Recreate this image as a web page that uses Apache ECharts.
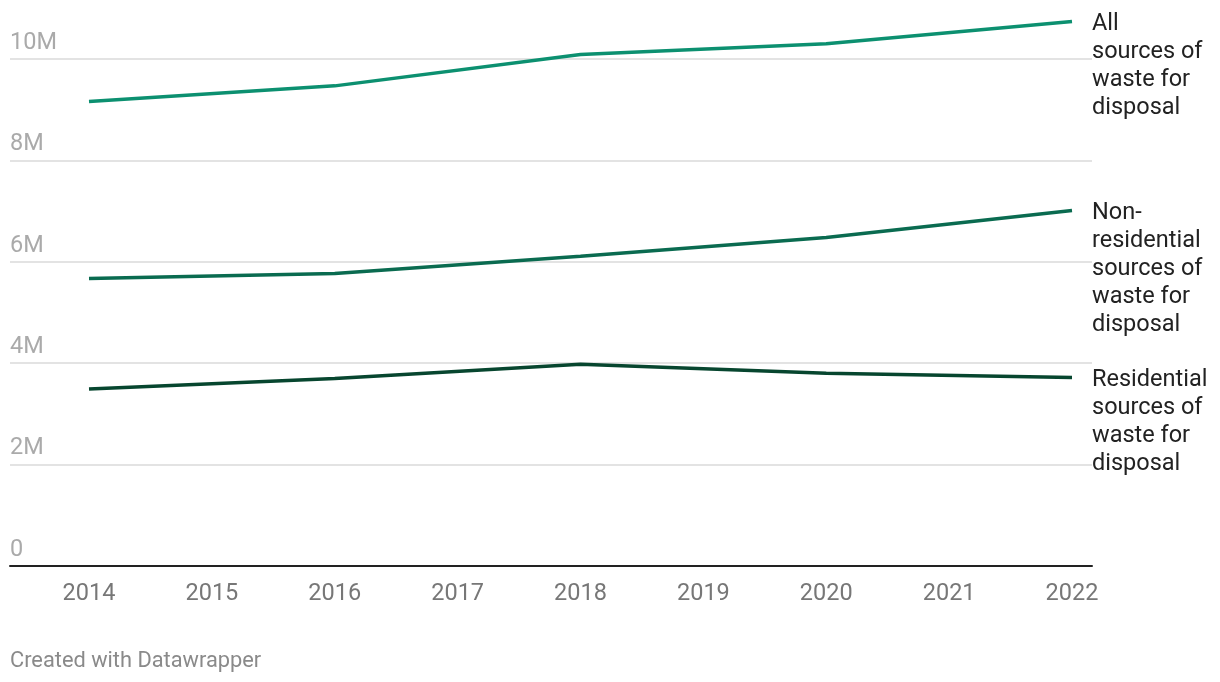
<!DOCTYPE html>
<html>
<head>
<meta charset="utf-8">
<script src="https://cdn.jsdelivr.net/npm/echarts@6/dist/echarts.min.js"></script>
<style>
html,body{margin:0;padding:0;background:#fff;}
#chart{width:1220px;height:682px;}
</style>
</head>
<body>
<div id="chart"></div>
<script>
const years = [2014, 2016, 2018, 2020, 2022];
const allSources = [9.16, 9.47, 10.09, 10.30, 10.74];
const nonResidential = [5.67, 5.77, 6.11, 6.48, 7.01];
const residential = [3.49, 3.70, 3.98, 3.80, 3.72];
const seriesNames = [
  "All\nsources of\nwaste for\ndisposal",
  "Non-\nresidential\nsources of\nwaste for\ndisposal",
  "Residential\nsources of\nwaste for\ndisposal"
];
const colors = ["#0c9070", "#0a6b50", "#07462f"];
const footer = "Created with Datawrapper";

const FONT = "Roboto";
const gridTop = 59, gridBottom = 116;

function pairs(vals){ return years.map((y,i)=>[y, vals[i]*1e6]); }

function mkSeries(name, vals, color){
  return {
    type: 'line', name: name, xAxisIndex: 1, yAxisIndex: 1,
    data: pairs(vals), showSymbol: false, symbol: 'none', clip: false,
    lineStyle: {color: color, width: 3.5}, itemStyle:{color: color},
    emphasis: {disabled: true}, silent: true,
    endLabel: {
      show: true, formatter: name, distance: 20, align: 'left', verticalAlign: 'top',
      offset: [0, -11], color: '#222', fontFamily: FONT, fontSize: 23.5, lineHeight: 28
    }
  };
}

const chart = echarts.init(document.getElementById('chart'), null, {renderer: 'canvas'});
chart.setOption({
  animation: false,
  backgroundColor: '#fff',
  title: {
    text: footer, left: 10, top: 651, padding: 0,
    textStyle: {color: '#8a8a8a', fontFamily: FONT, fontSize: 21.8, fontWeight: 'normal'}
  },
  grid: [
    {left: 10, right: 128, top: gridTop, bottom: gridBottom},
    {left: 89, right: 148, top: gridTop, bottom: gridBottom}
  ],
  xAxis: [
    {type: 'value', gridIndex: 0, min: 0, max: 1, axisLabel: {show: false}, axisTick: {show: false},
     splitLine: {show: false}, axisLine: {show: true, onZero: false, lineStyle: {color: '#222', width: 2}}},
    {type: 'value', gridIndex: 1, min: 2014, max: 2022, interval: 1,
     axisLine: {show: false}, axisTick: {show: false}, splitLine: {show: false},
     axisLabel: {color: '#777', fontFamily: FONT, fontSize: 23.5, margin: 16, formatter: v => String(v)}}
  ],
  yAxis: [
    {type: 'value', gridIndex: 0, min: 0, max: 10e6, interval: 2e6,
     axisLine: {show: false}, axisTick: {show: false},
     splitLine: {show: true, lineStyle: {color: '#e3e3e3', width: 2}},
     axisLabel: {inside: true, margin: 0, verticalAlign: 'bottom', padding: [0,0,4,0],
       color: '#aaa', fontFamily: FONT, fontSize: 23.5,
       formatter: v => v === 0 ? '0' : (v/1e6) + 'M'}},
    {type: 'value', gridIndex: 1, min: 0, max: 10e6, interval: 2e6, show: false}
  ],
  series: [
    mkSeries(seriesNames[0], allSources, colors[0]),
    mkSeries(seriesNames[1], nonResidential, colors[1]),
    mkSeries(seriesNames[2], residential, colors[2])
  ]
});
</script>
</body>
</html>
